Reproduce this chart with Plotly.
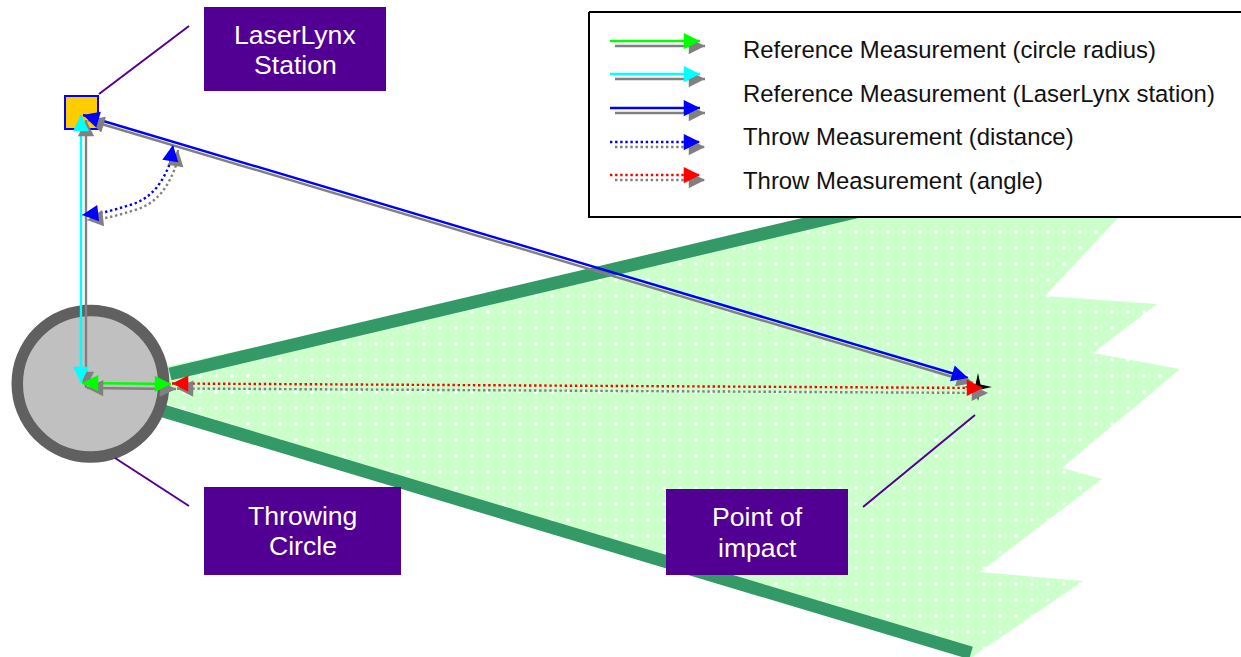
import math
import plotly.graph_objects as go

# --- diagram geometry (pixels of the drawing) ---
field_x = [168, 860, 870, 1125, 1118, 1045, 1157, 1093, 1180, 1062, 1102, 980, 1083, 972, 968, 160]
field_y = [366, 217, 205, 205, 218, 296, 304, 353, 369, 468, 479, 572, 581, 657, 657, 402]
sector_top_x = [170, 860]
sector_top_y = [374, 211]
sector_bottom_x = [160, 971]
sector_bottom_y = [410, 653]
circle_x = [90.5]
circle_y = [383.7]
station_x = [81.5]
station_y = [112.5]
star_x = [978, 980.5, 992, 980.5, 978, 975.5, 964, 975.5, 978]
star_y = [373, 384.5, 387, 389.5, 401, 389.5, 387, 384.5, 373]

legend_box_x = [589, 1242, 1242, 589, 589]
legend_box_y = [12, 12, 217, 217, 12]
legend_labels = ["Reference Measurement (circle radius)",
                 "Reference Measurement (LaserLynx station)",
                 "Throw Measurement (distance)",
                 "Throw Measurement (angle)"]
legend_label_x = [740.5, 740.5, 740.5, 740.5]
legend_label_y = [49.5, 93.5, 136.5, 180.5]

legend_sample_y = [41, 74, 108, 142, 175]
legend_sample_colors = ["#00ff00", "#00ffff", "#0000ff", "#0000ff", "#ff0000"]
legend_sample_dotted = [False, False, False, True, True]
legend_sample_start = 610
legend_sample_end = 700

# callouts: box corners, text lines, leader lines
box_left = [204, 204, 666]
box_right = [386, 401, 848]
box_top = [7, 487, 489]
box_bottom = [91, 575, 575]
box_line1 = ["LaserLynx", "Throwing", "Point of"]
box_line2 = ["Station", "Circle", "impact"]
box_line1_y = [35, 516, 517]
box_line2_y = [65, 546, 548]
leader_x = [[189, 99], [115, 189], [975, 863]]
leader_y = [[26, 94], [458, 506], [415, 507]]

# measurement arrows: path + colour, shadow is offset by (5, 5)
radius_x = [82, 171]
radius_y = [383, 384]
station_ref_x = [81, 81]
station_ref_y = [115, 383]
distance_ref_x = [83, 968]
distance_ref_y = [115, 378]
angle_x = [173, 170, 157, 142, 120, 100, 82]
angle_y = [145, 163, 187, 200, 208, 213, 215]
throw_x = [172, 983]
throw_y = [383.5, 388]

SHADOW = "#808080"
SHADOW_DX = 5
SHADOW_DY = 5
PURPLE = "#520094"

fig = go.Figure()

fig.add_trace(go.Scatter(x=field_x, y=field_y, mode="lines", fill="toself",
                         line=dict(width=0, color="#ccffcc"),
                         fillcolor="#ccffcc",
                         fillpattern=dict(shape=".", fgcolor="#ffffff", bgcolor="#ccffcc",
                                          size=16, solidity=0.04, fillmode="replace"),
                         hoverinfo="skip"))
for sx, sy in ((sector_top_x, sector_top_y), (sector_bottom_x, sector_bottom_y)):
    fig.add_trace(go.Scatter(x=sx, y=sy, mode="lines",
                             line=dict(color="#339966", width=12.8), hoverinfo="skip"))

fig.add_trace(go.Scatter(x=circle_x, y=circle_y, mode="markers",
                         marker=dict(symbol="circle", size=146.5, color="#c0c0c0",
                                     line=dict(color="#606060", width=11.5)),
                         hoverinfo="skip"))
fig.add_trace(go.Scatter(x=station_x, y=station_y, mode="markers",
                         marker=dict(symbol="square", size=33, color="#ffcc00",
                                     line=dict(color="#0000ff", width=2)),
                         hoverinfo="skip"))
fig.add_trace(go.Scatter(x=star_x, y=star_y, mode="lines", fill="toself",
                         fillcolor="#000000", line=dict(width=0, color="#000000"),
                         hoverinfo="skip"))

fig.add_trace(go.Scatter(x=legend_box_x, y=legend_box_y, mode="lines", fill="toself",
                         fillcolor="#ffffff", line=dict(color="#000000", width=2),
                         hoverinfo="skip"))

annotations = []


def head(tip_x, tip_y, from_x, from_y, color):
    d = math.hypot(from_x - tip_x, from_y - tip_y) or 1
    annotations.append(dict(
        x=tip_x, y=tip_y, xref="x", yref="y",
        ax=tip_x + (from_x - tip_x) / d * 12, ay=tip_y + (from_y - tip_y) / d * 12,
        axref="x", ayref="y", text=" ", font=dict(size=1),
        showarrow=True, arrowhead=2, arrowwidth=2.5, arrowsize=1.3, arrowcolor=color))


def arrow(xs, ys, color, dotted=False, both=True, spline=False):
    for dx, dy, col in ((SHADOW_DX, SHADOW_DY, SHADOW), (0, 0, color)):
        px = [v + dx for v in xs]
        py = [v + dy for v in ys]
        fig.add_trace(go.Scatter(
            x=px, y=py, mode="lines", hoverinfo="skip",
            line=dict(color=col, width=2.4,
                      dash="2.4px,2.7px" if dotted else "solid",
                      shape="spline" if spline else "linear")))
        head(px[-1], py[-1], px[-2], py[-2], col)
        if both:
            head(px[0], py[0], px[1], py[1], col)


arrow(angle_x, angle_y, "#0000ff", dotted=True, spline=True)
arrow(distance_ref_x, distance_ref_y, "#0000ff")
arrow(station_ref_x, station_ref_y, "#00ffff")
arrow(radius_x, radius_y, "#00ff00")
arrow(throw_x, throw_y, "#ff0000", dotted=True)

for y, col, dotted in zip(legend_sample_y, legend_sample_colors, legend_sample_dotted):
    arrow([legend_sample_start, legend_sample_end], [y, y], col, dotted=dotted, both=False)

for lx, ly in zip(leader_x, leader_y):
    fig.add_trace(go.Scatter(x=lx, y=ly, mode="lines", hoverinfo="skip",
                             line=dict(color=PURPLE, width=2)))

shapes = []
for l, r, t, b in zip(box_left, box_right, box_top, box_bottom):
    shapes.append(dict(type="rect", xref="x", yref="y", x0=l, x1=r, y0=t, y1=b,
                       fillcolor=PURPLE, line=dict(width=0), layer="above"))

text_font = dict(family="Liberation Sans", size=26.6, color="#ffffff")
for l, r, a, b, ya, yb in zip(box_left, box_right, box_line1, box_line2, box_line1_y, box_line2_y):
    cx = (l + r) / 2
    annotations.append(dict(x=cx, y=ya, xref="x", yref="y", text=a, showarrow=False,
                            xanchor="center", yanchor="middle", font=text_font))
    annotations.append(dict(x=cx, y=yb, xref="x", yref="y", text=b, showarrow=False,
                            xanchor="center", yanchor="middle", font=text_font))

for lx, ly, txt in zip(legend_label_x, legend_label_y, legend_labels):
    annotations.append(dict(x=lx, y=ly, xref="x", yref="y", text=txt, showarrow=False,
                            xanchor="left", yanchor="middle",
                            font=dict(family="Liberation Sans", size=23.9, color="#111111")))

fig.update_layout(
    width=1241, height=657, autosize=False,
    margin=dict(l=0, r=0, t=0, b=0, pad=0),
    paper_bgcolor="#ffffff", plot_bgcolor="#ffffff",
    showlegend=False, shapes=shapes, annotations=annotations,
    xaxis=dict(range=[0, 1241], visible=False, fixedrange=True),
    yaxis=dict(range=[657, 0], visible=False, fixedrange=True),
)
fig.write_html("out.html", config={"displayModeBar": False},
               post_script="document.body.style.margin='0';document.body.style.overflow='hidden';")
